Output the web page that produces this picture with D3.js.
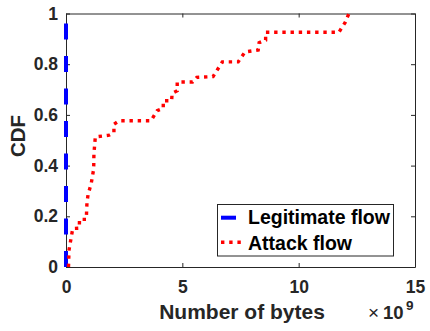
<!DOCTYPE html>
<html>
<head>
<meta charset="utf-8">
<script src="https://cdn.jsdelivr.net/npm/d3@7"></script>
<style>
  body { margin: 0; background: #fff; }
  svg { display: block; }
  text { font-family: "Liberation Sans", Arial, Helvetica, sans-serif; }
</style>
</head>
<body>
<svg id="chart" width="430" height="331"></svg>
<script>
// Tick values
const xTicks = [0, 5e9, 10e9, 15e9];
const yTicks = [0, 0.2, 0.4, 0.6, 0.8, 1];

// Legitimate flow: all flows are tiny, so the CDF sits on x = 0
const legitBytes = [0, 0];
const legitCdf = [0, 1];

// Attack flow CDF vertices (bytes, cumulative fraction)
const attackBytes = [
  0.107e9, 0.13e9, 0.29e9, 0.572e9, 0.58e9, 0.872e9, 0.90e9, 0.945e9, 1.087e9,
  1.19e9, 1.20e9, 1.26e9, 1.85e9, 2.06e9, 2.06e9, 2.29e9, 3.65e9, 3.92e9,
  4.18e9, 4.18e9, 4.54e9, 4.56e9, 4.78e9, 4.78e9, 5.44e9, 5.62e9, 6.32e9,
  6.72e9, 7.40e9, 7.69e9, 8.26e9, 8.30e9, 8.58e9, 8.58e9, 11.73e9, 12.0e9,
  12.16e9
];
const attackCdf = [
  0, 0.067, 0.152, 0.153, 0.188, 0.188, 0.252, 0.284, 0.331,
  0.387, 0.446, 0.513, 0.520, 0.530, 0.563, 0.577, 0.577, 0.617,
  0.626, 0.656, 0.656, 0.685, 0.695, 0.730, 0.730, 0.748, 0.751,
  0.809, 0.809, 0.848, 0.856, 0.885, 0.895, 0.926, 0.926, 0.965,
  1.0
];

const seriesNames = ["Legitimate flow", "Attack flow"];
const seriesColors = ["#0000ff", "#ff0000"];

const svg = d3.select("#chart");
const plotLeft = 66, plotRight = 415, plotTop = 13.5, plotBottom = 267;

const x = d3.scaleLinear().domain([0, 15e9]).range([plotLeft, plotRight]);
const y = d3.scaleLinear().domain([0, 1]).range([plotBottom, plotTop]);

const axisColor = "#262626";
const tickFont = "bold 17.5px 'Liberation Sans', Arial, Helvetica, sans-serif";

// Axes box with inward ticks on all four sides
const gB = svg.append("g").attr("transform", `translate(0,${plotBottom})`)
  .call(d3.axisBottom(x).tickValues(xTicks).tickSizeInner(-4).tickSizeOuter(0)
    .tickPadding(13.5).tickFormat(d => d3.format("d")(d / 1e9)));
const gT = svg.append("g").attr("transform", `translate(0,${plotTop})`)
  .call(d3.axisTop(x).tickValues(xTicks).tickSizeInner(-4).tickSizeOuter(0).tickFormat(""));
const gL = svg.append("g").attr("transform", `translate(${plotLeft},0)`)
  .call(d3.axisLeft(y).tickValues(yTicks).tickSizeInner(-4).tickSizeOuter(0)
    .tickPadding(8).tickFormat(d => (d === 0 || d === 1) ? String(d) : d3.format(".1f")(d)));
const gR = svg.append("g").attr("transform", `translate(${plotRight},0)`)
  .call(d3.axisRight(y).tickValues(yTicks).tickSizeInner(-4).tickSizeOuter(0).tickFormat(""));

[gB, gT, gL, gR].forEach(g => {
  g.select(".domain").attr("stroke", axisColor).attr("stroke-width", 1);
  g.selectAll(".tick line").attr("stroke", axisColor).attr("stroke-width", 1);
  g.selectAll(".tick text").attr("fill", axisColor).style("font", tickFont);
});

const line = d3.line().x(d => x(d[0])).y(d => y(d[1]));

// Legitimate flow: thick blue dashed line
svg.append("path")
  .datum(d3.zip(legitBytes, legitCdf))
  .attr("d", line)
  .attr("fill", "none")
  .attr("stroke", seriesColors[0])
  .attr("stroke-width", 4)
  .attr("stroke-dasharray", "16,16.5");

// Attack flow: thick red dotted line
svg.append("path")
  .datum(d3.zip(attackBytes, attackCdf))
  .attr("d", line)
  .attr("fill", "none")
  .attr("stroke", seriesColors[1])
  .attr("stroke-width", 3.4)
  .attr("stroke-dasharray", "3.4,4.8");

// Axis titles
svg.append("text")
  .attr("x", 242).attr("y", 319.3)
  .attr("text-anchor", "middle")
  .attr("fill", axisColor)
  .style("font-weight", "bold").style("font-size", "21px")
  .text("Number of bytes");

svg.append("text")
  .attr("transform", "translate(25,136) rotate(-90)")
  .attr("text-anchor", "middle")
  .attr("fill", axisColor)
  .style("font-weight", "bold").style("font-size", "20.5px")
  .text("CDF");

// Exponent label for the x axis
const expo = svg.append("text").attr("y", 319.3).attr("fill", axisColor);
expo.append("tspan").attr("x", 368).style("font-size", "19px").text("×");
expo.append("tspan").attr("x", 383).style("font-size", "18.5px").style("font-weight", "bold").text("10");
expo.append("tspan").attr("x", 406).attr("y", 310).style("font-size", "13.5px").style("font-weight", "bold").text("9");

// Legend
const leg = svg.append("g");
leg.append("rect")
  .attr("x", 217.5).attr("y", 204.5).attr("width", 176).attr("height", 51.5)
  .attr("fill", "#fff").attr("stroke", axisColor).attr("stroke-width", 1);

const legRows = [
  { y: 217.7, base: 224.3, dash: null, x2: 236, w: 4 },
  { y: 242.3, base: 250, dash: "3.4,4.8", x2: 242, w: 3.4 }
];
legRows.forEach((r, i) => {
  leg.append("line")
    .attr("x1", 221).attr("x2", r.x2).attr("y1", r.y).attr("y2", r.y)
    .attr("stroke", seriesColors[i]).attr("stroke-width", r.w)
    .attr("stroke-dasharray", r.dash);
  leg.append("text")
    .attr("x", 248).attr("y", r.base)
    .attr("fill", "#000")
    .style("font-weight", "bold").style("font-size", "19.5px")
    .text(seriesNames[i]);
});
</script>
</body>
</html>
